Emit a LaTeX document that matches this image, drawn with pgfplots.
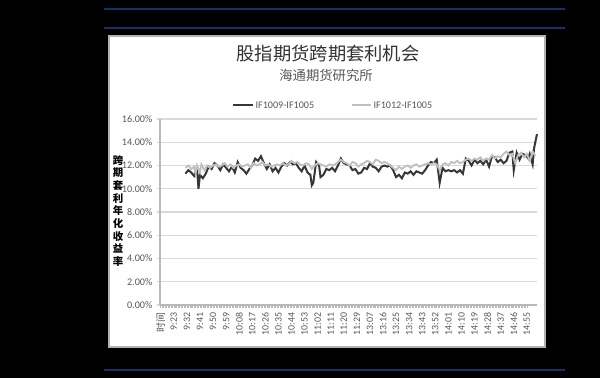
\documentclass[border=0pt]{standalone}
\usepackage{fontspec}
\setmainfont{Carlito}
\newfontfamily\cjk{Noto Sans CJK SC}
\usepackage{pgfplots}
\pgfplotsset{compat=1.18}
\definecolor{navyline}{RGB}{18,52,100}
\definecolor{darkser}{RGB}{55,55,55}
\definecolor{lightser}{RGB}{192,192,192}
\definecolor{lab}{RGB}{89,89,89}
\begin{document}
\begin{tikzpicture}
\fill[black] (0pt,0pt) rectangle (450pt,283.5pt);
\draw[navyline,line width=0.9pt] (78pt,276.8pt)--(423.75pt,276.8pt);
\draw[navyline,line width=0.9pt] (78pt,262.5pt)--(423.75pt,262.5pt);
\draw[navyline,line width=0.9pt] (78pt,6pt)--(423.75pt,6pt);
\draw[fill=white,draw=gray!60,line width=0.8pt] (81.75pt,23.25pt) rectangle (408.75pt,256.5pt);
\node[font=\cjk\fontsize{13.7}{15}\selectfont,text=black!80] at (246pt,243.5pt) {股指期货跨期套利机会};
\node[font=\cjk\fontsize{10}{11}\selectfont,text=black!65] at (244.5pt,227pt) {海通期货研究所};
\draw[darkser,line width=1.5pt] (174.75pt,204.75pt)--(189.75pt,204.75pt);
\node[anchor=west,font=\fontsize{7.6}{9}\selectfont,text=lab,inner sep=1pt] at (190.5pt,204.75pt) {IF1009-IF1005};
\draw[lightser,line width=1.5pt] (264pt,204.75pt)--(278.25pt,204.75pt);
\node[anchor=west,font=\fontsize{7.6}{9}\selectfont,text=lab,inner sep=1pt] at (279pt,204.75pt) {IF1012-IF1005};
\node[font=\cjk\bfseries\fontsize{7.8}{9.5}\selectfont,align=center,inner sep=0pt] at (88.5pt,125.25pt) {跨\\期\\套\\利\\年\\化\\收\\益\\率};
\begin{axis}[at={(120pt,54.75pt)},anchor=south west,scale only axis,
  width=282.75pt,height=139.5pt,
  xmin=-0.5,xmax=259,ymin=0,ymax=16,
  axis lines*=left,
  axis line style={-,draw=gray!55,line width=0.8pt},
  ytick={0,2,...,16},
  ymajorgrids,
  grid style={gray!30,line width=0.8pt},
  /pgf/number format/assume math mode=true,
  yticklabel={\pgfmathprintnumber[fixed,fixed zerofill,precision=2]{\tick}\%},
  yticklabel style={font=\fontsize{7.6}{9}\selectfont,text=lab},
  xtick={0,9,...,252},
  xticklabels={{\cjk 时间},9:23,9:32,9:41,9:50,9:59,10:08,10:17,10:26,10:35,10:44,10:53,11:02,11:11,11:20,11:29,13:07,13:16,13:25,13:34,13:43,13:52,14:01,14:10,14:19,14:28,14:37,14:46,14:55},
  xticklabel style={rotate=90,anchor=east,font=\fontsize{7.4}{9}\selectfont,text=lab},
  minor x tick num=8,
  tick align=outside,
  major tick length=2.25pt,
  minor tick length=2.25pt,
  tick style={gray!55,line width=0.4pt},
  ytick style={gray!30,line width=0.8pt},
  clip=false,
]
\addplot[darkser,line width=1.5pt] coordinates {
(17,11.3)(19,11.6)(21,11.4)(23,11.1)(25,11.7)(26,10.0)(27,11.2)(29,10.9)(31,11.3)(33,11.9)
(35,11.7)(37,12.2)(39,12.0)(41,11.6)(43,12.1)(45,11.8)(47,11.5)(49,11.9)(51,11.4)(53,12.3)
(55,11.8)(57,11.6)(59,11.3)(61,11.7)(63,12.0)(65,12.6)(67,12.4)(69,12.8)(71,12.2)(73,11.7)
(75,12.1)(77,11.5)(79,11.8)(81,11.4)(83,11.9)(85,12.2)(87,12.0)(89,12.3)(91,12.1)(93,12.2)
(95,11.8)(97,11.5)(99,12.0)(101,11.4)(103,11.2)(104,10.3)(105,10.5)(107,12.3)(109,12.0)(110,11.0)
(112,11.2)(114,11.7)(116,11.6)(118,11.8)(120,11.5)(122,12.0)(124,12.6)(126,12.2)(128,12.1)(130,12.0)
(132,11.6)(134,11.7)(136,11.3)(138,11.4)(140,11.8)(142,11.7)(144,12.2)(146,11.9)(148,11.8)(150,11.5)
(152,11.9)(154,12.0)(156,11.9)(158,12.0)(160,11.6)(162,11.0)(164,11.2)(166,10.9)(168,11.4)(170,11.3)
(172,11.5)(174,11.2)(176,11.5)(178,11.4)(180,11.3)(182,11.6)(184,12.0)(186,12.3)(188,12.2)(190,12.5)
(192,10.5)(194,11.8)(196,11.5)(198,11.6)(200,11.5)(202,11.6)(204,11.4)(206,11.6)(208,11.3)(210,12.6)
(212,12.4)(214,12.0)(216,12.5)(218,12.2)(220,12.4)(222,12.1)(224,12.5)(226,11.9)(228,12.8)(230,12.7)
(232,12.3)(234,12.5)(236,12.2)(238,12.4)(240,13.1)(242,13.2)(243,11.6)(245,13.1)(247,12.5)(249,13.0)
(251,12.9)(253,12.6)(254,13.0)(256,12.1)(257,13.5)(259,14.7)
};
\addplot[lightser,line width=1.4pt] coordinates {
(17,11.8)(19,12.0)(21,11.7)(23,11.9)(24,11.3)(25,12.0)(27,11.4)(28,12.1)(30,11.6)(32,12.0)
(34,11.8)(36,12.0)(38,12.1)(40,11.9)(42,12.0)(44,12.2)(46,11.9)(48,12.1)(50,11.8)(52,12.0)
(54,12.1)(56,11.9)(58,12.0)(60,12.1)(62,11.8)(64,12.2)(66,12.0)(68,12.1)(70,12.3)(72,12.0)
(74,12.1)(76,11.9)(78,12.0)(80,12.1)(82,12.0)(84,12.2)(86,12.0)(88,12.1)(90,12.4)(92,12.2)
(94,12.3)(96,12.1)(98,12.0)(100,12.2)(102,12.1)(104,11.7)(106,12.0)(108,12.2)(110,12.1)(112,12.0)
(114,11.9)(116,12.1)(118,12.0)(120,12.1)(122,12.3)(124,12.5)(126,12.3)(128,12.2)(130,12.0)(132,12.3)
(134,12.2)(136,11.9)(138,12.1)(140,12.2)(142,12.4)(144,12.3)(146,12.1)(148,12.5)(150,12.4)(152,12.2)
(154,12.3)(156,12.2)(158,12.0)(160,11.8)(162,11.6)(164,11.9)(166,11.7)(168,11.9)(170,12.0)(172,11.8)
(174,12.0)(176,12.1)(178,11.9)(180,12.0)(182,12.1)(184,12.2)(186,12.1)(188,12.2)(190,12.1)(192,11.6)
(194,12.1)(196,12.2)(198,12.0)(200,12.3)(202,12.2)(204,12.4)(206,12.2)(208,12.3)(210,12.5)(212,12.6)
(214,12.4)(216,12.6)(218,12.5)(220,12.7)(222,12.4)(224,12.6)(226,12.5)(228,12.9)(230,12.6)(232,12.8)
(234,12.7)(236,13.0)(238,13.2)(240,12.9)(242,13.0)(244,12.2)(246,12.9)(248,13.1)(250,12.7)(252,13.0)
(254,12.4)(256,13.2)(258,12.8)
};
\end{axis}
\end{tikzpicture}
\end{document}
